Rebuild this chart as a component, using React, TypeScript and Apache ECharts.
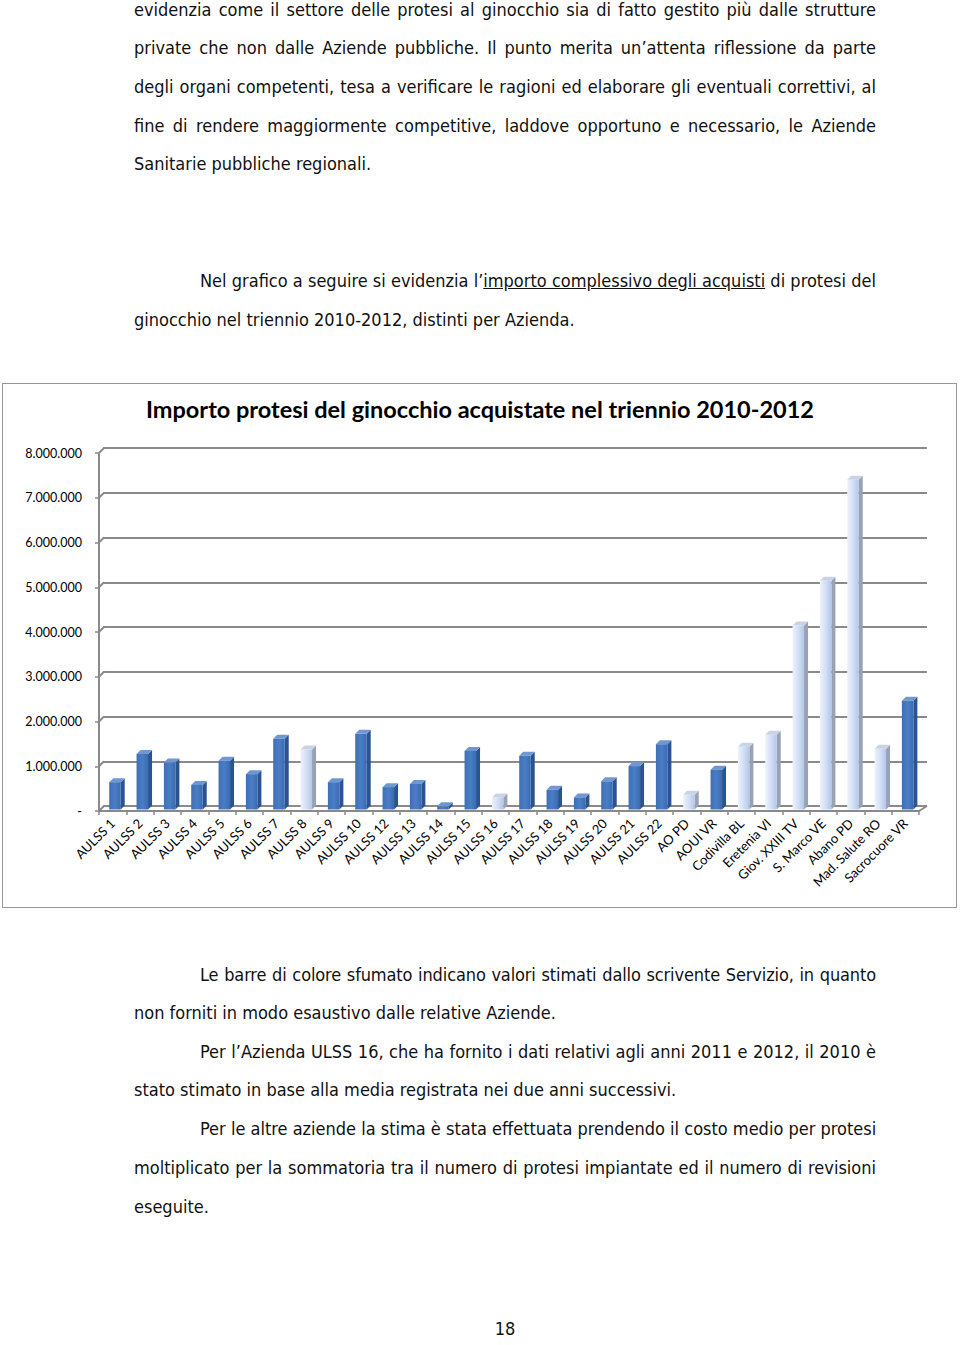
import React, { useEffect, useRef } from "react";
import * as echarts from "echarts";

// ---- chart data ----
const categories = [
  "AULSS 1", "AULSS 2", "AULSS 3", "AULSS 4", "AULSS 5", "AULSS 6", "AULSS 7", "AULSS 8", "AULSS 9", "AULSS 10",
  "AULSS 12", "AULSS 13", "AULSS 14", "AULSS 15", "AULSS 16", "AULSS 17", "AULSS 18", "AULSS 19", "AULSS 20", "AULSS 21",
  "AULSS 22", "AO PD", "AOUI VR", "Codivilla BL", "Eretenia VI", "Giov. XXIII TV", "S. Marco VE", "Abano PD", "Mad. Salute RO", "Sacrocuore VR",
];
const values = [
  610000, 1240000, 1050000, 550000, 1090000, 790000, 1580000, 1340000, 610000, 1690000,
  500000, 570000, 70000, 1310000, 270000, 1200000, 440000, 270000, 630000, 970000,
  1460000, 330000, 890000, 1400000, 1670000, 4110000, 5110000, 7370000, 1360000, 2430000,
];
// 1 = estimated value (shaded bar)
const estimated = [
  0, 0, 0, 0, 0, 0, 0, 1, 0, 0,
  0, 0, 0, 0, 1, 0, 0, 0, 0, 0,
  0, 1, 0, 1, 1, 1, 1, 1, 1, 0,
];
const yTicks = [0, 1000000, 2000000, 3000000, 4000000, 5000000, 6000000, 7000000, 8000000];
const chartTitle = "Importo protesi del ginocchio acquistate nel triennio 2010-2012";

const fmt = (v: number) => (v === 0 ? "-" : String(v).replace(/\B(?=(\d{3})+(?!\d))/g, "."));

const TEXT_FONT = '"DejaVu Sans Condensed", "Liberation Sans", sans-serif';

function Line(props: { y: number; left: number; justify?: boolean; tight?: boolean; children: any }) {
  const { y, left, justify, tight, children } = props;
  return (
    <div
      style={{
        position: "absolute",
        left,
        top: y - 12,
        width: 876 - left,
        height: 24,
        lineHeight: "24px",
        fontSize: 18,
        letterSpacing: tight ? "-0.12px" : "normal",
        whiteSpace: "nowrap",
        textAlign: justify ? "justify" : "left",
        textAlignLast: justify ? "justify" : "left",
      } as any}
    >
      {children}
    </div>
  );
}

function Chart() {
  const ref = useRef<HTMLDivElement>(null);
  useEffect(() => {
    if (!ref.current) return;
    const chart = echarts.init(ref.current, null, { renderer: "svg" });
    const gridColor = "#8a8a8a";
    const barData = values.map((v, i) => [i, v, estimated[i]]);
    const option: any = {
      animation: false,
      title: {
        text: chartTitle,
        left: "center",
        top: 12,
        textStyle: { fontFamily: "Lato", fontWeight: "bold", fontSize: 23.5, color: "#000" },
      },
      grid: [
        { left: 103, top: 68, width: 824, height: 358 },
        { left: 99, top: 73, width: 820, height: 358 },
      ],
      xAxis: [
        {
          gridIndex: 0, type: "category", data: categories,
          axisLine: { show: false }, axisTick: { show: false }, axisLabel: { show: false }, splitLine: { show: false },
        },
        {
          gridIndex: 1, type: "category", data: categories,
          axisLine: { show: true, lineStyle: { color: gridColor, width: 2 } },
          axisTick: { show: true, length: 4, lineStyle: { color: gridColor, width: 1.5 } },
          axisLabel: {
            interval: 0, rotate: 45, margin: 10,
            fontFamily: "Lato", fontSize: 13, color: "#000",
          },
        },
      ],
      yAxis: [
        {
          gridIndex: 0, type: "value", min: 0, max: 8000000, interval: 1000000,
          axisLine: { show: false }, axisTick: { show: false }, axisLabel: { show: false },
          splitLine: { show: true, lineStyle: { color: gridColor, width: 2 } },
        },
        {
          gridIndex: 1, type: "value", min: 0, max: 8000000, interval: 1000000,
          axisLine: { show: true, lineStyle: { color: gridColor, width: 2 } },
          axisTick: { show: true, length: 4, lineStyle: { color: gridColor, width: 1.5 } },
          splitLine: { show: false },
          axisLabel: { formatter: fmt, margin: 17, fontFamily: "Lato", fontSize: 12.5, color: "#000" },
        },
      ],
      series: [
        {
          type: "custom",
          xAxisIndex: 1, yAxisIndex: 1,
          data: yTicks.map((v) => [0, v]),
          encode: { x: 0, y: 1 },
          silent: true,
          z: 1,
          renderItem: (params: any, api: any) => {
            const cs = params.coordSys;
            const y = api.coord([0, api.value(1)])[1];
            const children: any[] = [
              { type: "line", shape: { x1: cs.x, y1: y, x2: cs.x + 5, y2: y - 5 }, style: { stroke: gridColor, lineWidth: 2 } },
            ];
            if (api.value(1) === 0) {
              children.push({
                type: "line",
                shape: { x1: cs.x + cs.width, y1: y, x2: cs.x + cs.width + 8, y2: y - 5 },
                style: { stroke: gridColor, lineWidth: 2 },
              });
            }
            return { type: "group", children };
          },
        },
        {
          type: "custom",
          xAxisIndex: 1, yAxisIndex: 1,
          data: barData,
          encode: { x: 0, y: 1 },
          z: 5,
          renderItem: (params: any, api: any) => {
            const i = api.value(0);
            const v = api.value(1);
            const est = api.value(2) === 1;
            const top = api.coord([i, v]);
            const base = api.coord([i, 0]);
            const w = 11.5, dx = 4, dy = 4;
            const x0 = top[0] + 2.3 - w / 2;
            const x1 = x0 + w;
            const yT = top[1] - 1.5;
            const yB = base[1] - 1.5;
            const front = est
              ? new echarts.graphic.LinearGradient(0, 0, 1, 0, [
                  { offset: 0, color: "#eef3fc" },
                  { offset: 0.5, color: "#d3dff5" },
                  { offset: 1, color: "#b3c6eb" },
                ])
              : new echarts.graphic.LinearGradient(0, 0, 1, 0, [
                  { offset: 0, color: "#3d6fb6" },
                  { offset: 0.5, color: "#4a7ec4" },
                  { offset: 1, color: "#3a6bb1" },
                ]);
            const side = est ? "#98a2b3" : "#2a5390";
            const cap = est ? "#c9d3e4" : "#6f98d3";
            return {
              type: "group",
              children: [
                {
                  type: "polygon",
                  shape: { points: [[x1, yT], [x1 + dx, yT - dy], [x1 + dx, yB - dy], [x1, yB]] },
                  style: { fill: side },
                },
                {
                  type: "polygon",
                  shape: { points: [[x0, yT], [x0 + dx, yT - dy], [x1 + dx, yT - dy], [x1, yT]] },
                  style: { fill: cap },
                },
                { type: "rect", shape: { x: x0, y: yT, width: w, height: yB - yT }, style: { fill: front } },
              ],
            };
          },
        },
      ],
    };
    chart.setOption(option);
    return () => chart.dispose();
  }, []);
  return <div ref={ref} style={{ position: "absolute", left: 0, top: 380, width: 960, height: 540 }} />;
}

export default function App() {
  return (
    <div
      style={{
        position: "absolute", left: 0, top: 0, width: 960, height: 1345, background: "#fff",
        overflow: "hidden", fontFamily: TEXT_FONT, color: "#111",
      }}
    >
      <Line y={10} left={134} justify>evidenzia come il settore delle protesi al ginocchio sia di fatto gestito più dalle strutture</Line>
      <Line y={48} left={134} justify>private che non dalle Aziende pubbliche. Il punto merita un’attenta riflessione da parte</Line>
      <Line y={87} left={134} justify>degli organi competenti, tesa a verificare le ragioni ed elaborare gli eventuali correttivi, al</Line>
      <Line y={126} left={134} justify>fine di rendere maggiormente competitive, laddove opportuno e necessario, le Aziende</Line>
      <Line y={164} left={134}>Sanitarie pubbliche regionali.</Line>

      <Line y={281} left={200} justify>
        Nel grafico a seguire si evidenzia l’<span style={{ textDecoration: "underline" }}>importo complessivo degli acquisti</span> di protesi del
      </Line>
      <Line y={320} left={134}>ginocchio nel triennio 2010-2012, distinti per Azienda.</Line>

      <div style={{ position: "absolute", left: 2, top: 383, width: 955, height: 525, border: "1px solid #979797", boxSizing: "border-box" }} />
      <Chart />

      <Line y={975} left={200} justify tight>Le barre di colore sfumato indicano valori stimati dallo scrivente Servizio, in quanto</Line>
      <Line y={1013} left={134}>non forniti in modo esaustivo dalle relative Aziende.</Line>
      <Line y={1052} left={200} justify>Per l’Azienda ULSS 16, che ha fornito i dati relativi agli anni 2011 e 2012, il 2010 è</Line>
      <Line y={1090} left={134}>stato stimato in base alla media registrata nei due anni successivi.</Line>
      <Line y={1129} left={200} justify>Per le altre aziende la stima è stata effettuata prendendo il costo medio per protesi</Line>
      <Line y={1168} left={134} justify>moltiplicato per la sommatoria tra il numero di protesi impiantate ed il numero di revisioni</Line>
      <Line y={1207} left={134}>eseguite.</Line>

      <div style={{ position: "absolute", left: 480, top: 1317, width: 50, textAlign: "center", fontSize: 18, lineHeight: "24px" }}>18</div>
    </div>
  );
}
